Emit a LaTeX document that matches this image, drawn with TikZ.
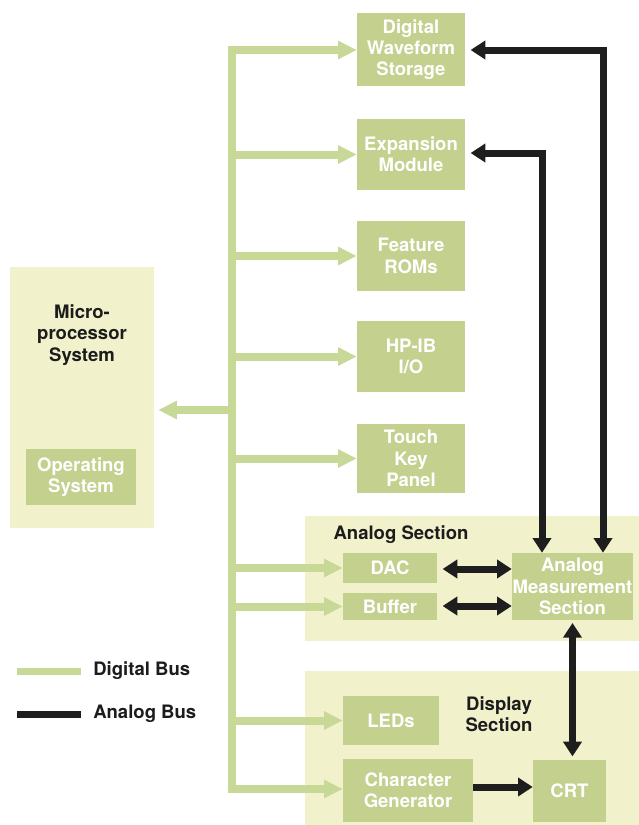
\documentclass[tikz,border=0pt]{standalone}
\usepackage{fontspec}
\setmainfont{TeX Gyre Heros}
\usetikzlibrary{arrows.meta}
\definecolor{bgc}{RGB}{241,241,204}
\definecolor{boxc}{RGB}{196,208,142}
\definecolor{busg}{RGB}{200,216,150}
\definecolor{busd}{RGB}{30,30,30}
\definecolor{txtd}{RGB}{28,28,28}
\begin{document}
\begin{tikzpicture}[x=0.75pt,y=-0.75pt,
  sz/.style 2 args={minimum width=#1*0.75pt, minimum height=#2*0.75pt},
  sec/.style={fill=bgc, draw=none, inner sep=0},
  blk/.style={fill=boxc, draw=none, text=white, align=center, inner sep=0,
    font=\fontsize{13.9}{16}\selectfont\bfseries},
  lbl/.style={text=txtd, align=center, inner sep=0,
    font=\fontsize{13.9}{16}\selectfont\bfseries},
  gtip/.tip={Triangle[length=14pt,width=13pt]},
  dtip/.tip={Triangle[length=11pt,width=13.5pt]},
  gbus/.style={draw=busg, line width=6pt, line join=miter},
  abus/.style={draw=busd, line width=5.25pt, line join=miter},
]
\useasboundingbox[fill=white] (0,0) rectangle (639,825);

% section backgrounds
\node[sec, sz={144}{261}] (micro) at (82,397.5) {};
\node[sec, sz={334}{125}] (asec) at (472,578.5) {};
\node[sec, sz={334}{154}] (dsec) at (472,748) {};

% labels of sections
\node[lbl] (microlbl) at (82,335) {Micro-\\processor\\System};
\node[lbl] (alabel) at (401,535) {Analog Section};
\node[lbl] (dlabel) at (499,714) {Display\\Section};

% blocks
\node[blk, sz={110}{56}] (os) at (81,477) {Operating\\System};
\node[blk, sz={108}{73}] (dws) at (411,49.5) {Digital\\Waveform\\Storage};
\node[blk, sz={108}{71}] (exp) at (411,154.5) {Expansion\\Module};
\node[blk, sz={108}{70}] (rom) at (411,256) {Feature\\ROMs};
\node[blk, sz={108}{71}] (hpib) at (411,356.5) {HP-IB\\I/O};
\node[blk, sz={108}{69}] (touch) at (411,458.5) {Touch\\Key\\Panel};
\node[blk, sz={94}{30}] (dac) at (390,568) {DAC};
\node[blk, sz={94}{27}] (buf) at (390,606.5) {Buffer};
\node[blk, sz={121}{67}] (ams) at (572.5,586.5) {Analog\\Measurement\\Section};
\node[blk, sz={96}{49}] (leds) at (391,720.5) {LEDs};
\node[blk, sz={130}{63}] (cg) at (408,790.5) {Character\\Generator};
\node[blk, sz={73}{62}] (crt) at (569.5,791) {CRT};

% digital bus
\coordinate (bt) at (232,50);
\coordinate (bb) at (232,789);
\draw[gbus, gtip-gtip] (dws.west |- bt) -- (bt) -- (bb) -- (cg.west |- bb);
\draw[gbus, -gtip] (bt |- exp.west) -- (exp.west);
\draw[gbus, -gtip] (bt |- rom.west) -- (rom.west);
\draw[gbus, -gtip] (bt |- hpib.west) -- (hpib.west);
\draw[gbus, -gtip] (bt |- touch.west) -- (touch.west);
\draw[gbus, -gtip] (bt |- dac.west) -- (dac.west);
\draw[gbus, -gtip] (bt |- buf.west) -- (buf.west);
\draw[gbus, -gtip] (bt |- leds.west) -- (leds.west);
\draw[gbus, -gtip, shorten >=3pt] (232,410) -- (micro.east |- 0,410);

% analog bus
\coordinate (a1) at (603,50);
\coordinate (a2) at (542,153);
\draw[abus, dtip-dtip, shorten <=4pt] (dws.east |- a1) -- (a1) -- (a1 |- ams.north);
\draw[abus, dtip-dtip, shorten <=4pt] (exp.east |- a2) -- (a2) -- (a2 |- ams.north);
\draw[abus, dtip-dtip, shorten <=4pt] (dac.east |- 0,569) -- (ams.west |- 0,569);
\draw[abus, dtip-dtip, shorten <=4pt] (buf.east |- 0,606) -- (ams.west |- 0,606);
\draw[abus, dtip-dtip, shorten <=2pt, shorten >=2.5pt] (ams.south) -- (crt.north -| ams.south);
\draw[abus, -dtip] (cg.east |- 0,787) -- (crt.west |- 0,787);

% legend
\coordinate (lg1) at (17,671);
\coordinate (lg2) at (81,671);
\coordinate (la1) at (17,714);
\coordinate (la2) at (81,714);
\draw[draw=busg, line width=5.25pt] (lg1) -- (lg2);
\draw[draw=busd, line width=5.25pt] (la1) -- (la2);
\node[lbl, anchor=west] (lgt) at (93,671) {Digital Bus};
\node[lbl, anchor=west] (lat) at (93,714) {Analog Bus};
\end{tikzpicture}
\end{document}
